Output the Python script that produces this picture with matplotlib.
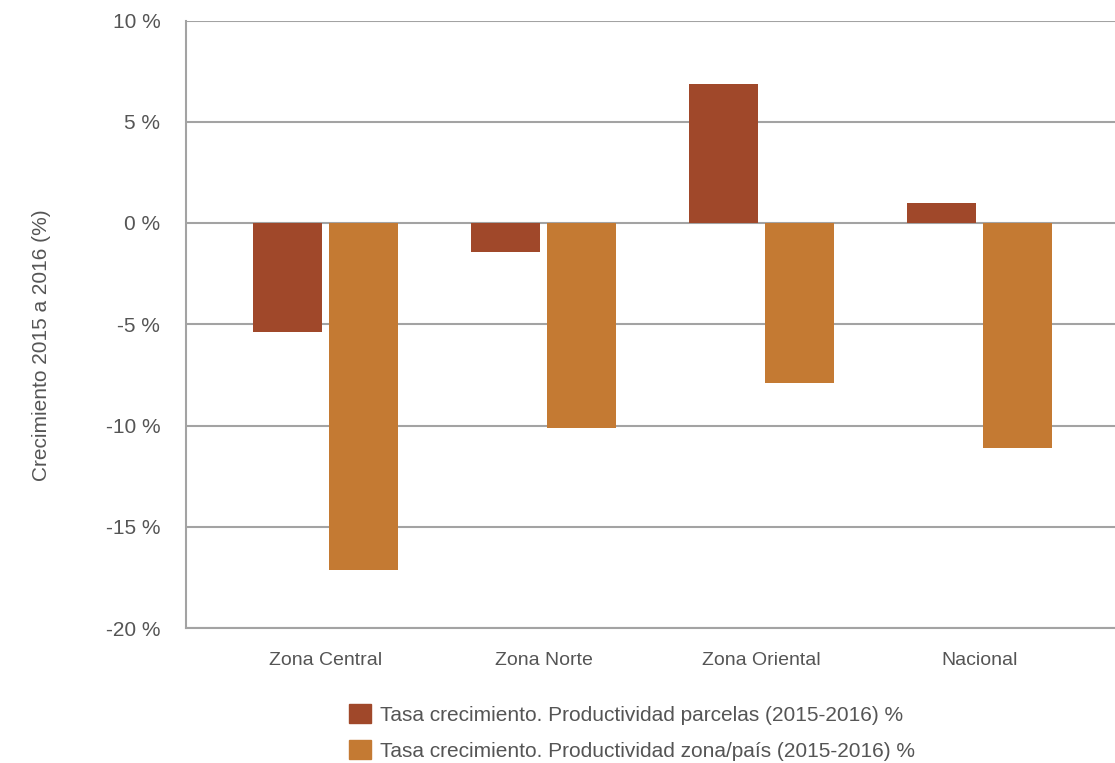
import matplotlib
matplotlib.use("Agg")
import matplotlib.pyplot as plt
from matplotlib.patches import Patch
import numpy as np

categories = ["Zona Central", "Zona Norte", "Zona Oriental", "Nacional"]
parcelas = [-5.4, -1.45, 6.85, 1.0]
zona_pais = [-17.15, -10.1, -7.9, -11.1]
series_labels = [
    "Tasa crecimiento. Productividad parcelas (2015-2016) %",
    "Tasa crecimiento. Productividad zona/país (2015-2016) %",
]
yticks = [10, 5, 0, -5, -10, -15, -20]
ylabel = "Crecimiento 2015 a 2016 (%)"

RED = "#A0482A"
ORANGE = "#C47A33"
GRID = "#A3A3A3"
TXT = "#555555"

plt.rcParams["font.family"] = ["Liberation Sans", "DejaVu Sans"]

fig = plt.figure(figsize=(11.15, 7.63), dpi=100)
ax = fig.add_axes([186 / 1115, 1 - 628 / 763, 1 - 186 / 1115, (628 - 20.5) / 763])

x = np.arange(len(categories))
w = 0.318
off = 0.175
ax.bar(x - off, parcelas, width=w, color=RED, zorder=3)
ax.bar(x + off, zona_pais, width=w, color=ORANGE, zorder=3)

ax.set_xlim(-0.64, 3.622)
ax.set_ylim(-20, 10)
ax.set_yticks(yticks)
ax.set_yticklabels([f"{v} %" for v in yticks], fontsize=15, color=TXT)
ax.set_xticks(x)
ax.set_xticklabels(categories, fontsize=14, color=TXT)
ax.tick_params(axis="both", length=0)
ax.tick_params(axis="y", pad=18.5)
ax.tick_params(axis="x", pad=17)

ax.yaxis.grid(True, color=GRID, linewidth=1.5, zorder=0)
for s in ["top", "right"]:
    ax.spines[s].set_visible(False)
for s in ["left", "bottom"]:
    ax.spines[s].set_color(GRID)
    ax.spines[s].set_linewidth(1.5)

fig.text(42 / 1115, 1 - 345 / 763, ylabel, rotation=90, ha="center", va="center",
         fontsize=15, color=TXT)

handles = [Patch(color=RED), Patch(color=ORANGE)]
leg = fig.legend(handles, series_labels, loc="upper left",
                 bbox_to_anchor=(349 / 1115, 1 - 704 / 763), frameon=False,
                 fontsize=15, handlelength=1.05, handleheight=1.05,
                 handletextpad=0.45, labelspacing=0.72, borderpad=0,
                 borderaxespad=0)
for t in leg.get_texts():
    t.set_color(TXT)

fig.savefig("out.png", dpi=100)
